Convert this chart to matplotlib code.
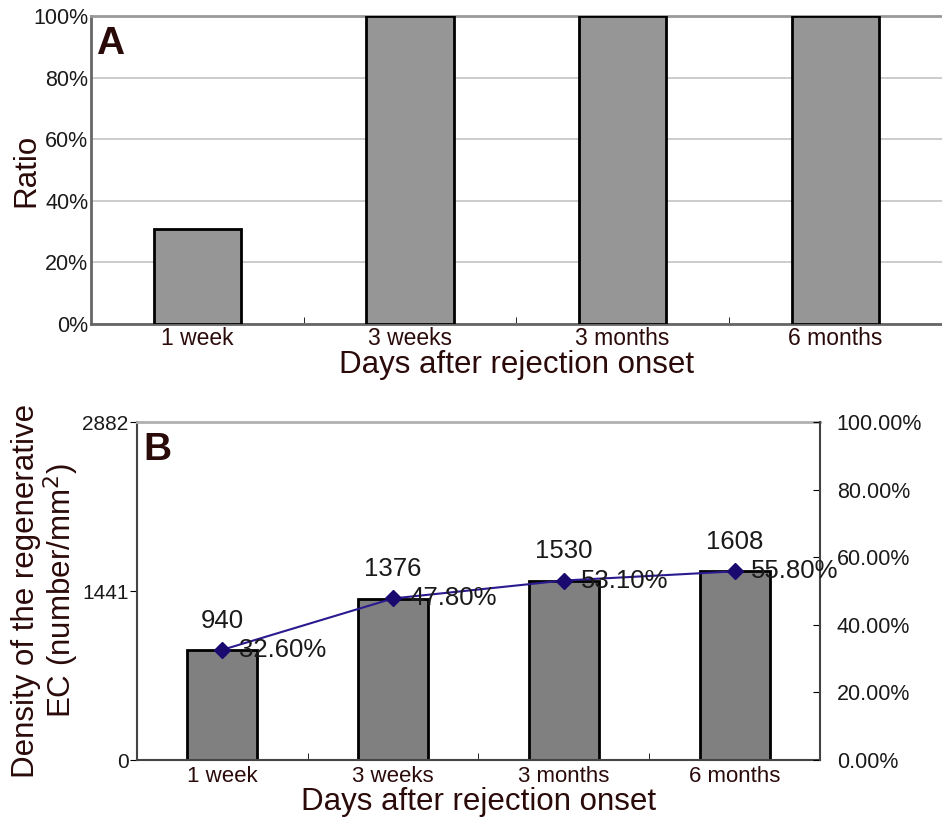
import numpy as np
import matplotlib.pyplot as plt
from matplotlib.ticker import FuncFormatter

plt.rcParams['font.family'] = ['Liberation Sans', 'DejaVu Sans']

# data
periods = ['1 week', '3 weeks', '3 months', '6 months']
ratio_a = [31, 100, 100, 100]
density_b = [940, 1376, 1530, 1608]
percent_b = [32.6, 47.8, 53.1, 55.8]

brown = '#2b0a0a'
x = np.arange(len(periods))

fig = plt.figure(figsize=(9.42, 8.18), dpi=100)

# ---- panel A
ax1 = fig.add_axes([0.0966, 0.604, 0.903, 0.376])
ax1.bar(x, ratio_a, width=0.41, color='#969696', edgecolor='black', linewidth=2, zorder=3)
ax1.set_xlim(-0.5, 3.5)
ax1.set_ylim(0, 100)
ax1.set_yticks(range(0, 101, 20))
ax1.yaxis.set_major_formatter(FuncFormatter(lambda v, p: '%d%%' % v))
ax1.yaxis.grid(True, color='#c4c4c4', linewidth=1.2, zorder=0)
ax1.set_xticks(x)
ax1.set_xticklabels(periods, color=brown)
ax1.set_xticks([0.5, 1.5, 2.5], minor=True)
ax1.tick_params(axis='x', which='major', length=0, labelsize=16.5, pad=2)
ax1.tick_params(axis='x', which='minor', direction='in', length=5)
ax1.tick_params(axis='y', length=0, labelsize=15.5, pad=2, labelcolor='#1a1a1a')
for s in ['left', 'bottom']:
    ax1.spines[s].set_color('#666666')
    ax1.spines[s].set_linewidth(2)
ax1.spines['top'].set_color('#999999')
ax1.spines['top'].set_linewidth(2)
ax1.spines['right'].set_visible(False)
ax1.set_ylabel('Ratio', fontsize=22.5, color=brown)
ax1.yaxis.set_label_coords(-0.058, 0.5)
ax1.set_xlabel('Days after rejection onset', fontsize=22.5, color=brown, labelpad=0)
ax1.text(0.006, 0.97, 'A', transform=ax1.transAxes, fontsize=28, fontweight='bold',
         color=brown, va='top', ha='left')

# ---- panel B
ax2 = fig.add_axes([0.1454, 0.0709, 0.7251, 0.4132])
ax2.bar(x, density_b, width=0.41, color='#808080', edgecolor='black', linewidth=2, zorder=2)
ax2.set_xlim(-0.5, 3.5)
ax2.set_ylim(0, 2882)
ax2.set_yticks([0, 1441, 2882])
ax2.set_xticks(x)
ax2.set_xticklabels(periods, color=brown)
ax2.set_xticks([0.5, 1.5, 2.5], minor=True)
ax2.tick_params(axis='x', which='major', length=0, labelsize=16, pad=4)
ax2.tick_params(axis='x', which='minor', direction='in', length=5)
ax2.tick_params(axis='y', length=5, labelsize=15, pad=1, labelcolor='#1a1a1a')
ax2.spines['top'].set_color('#b0b0b0')
ax2.spines['top'].set_linewidth(2)
for s in ['left', 'bottom']:
    ax2.spines[s].set_color('#444444')
    ax2.spines[s].set_linewidth(1.5)
ax2.spines['right'].set_visible(False)
ax2.set_ylabel('Density of the regenerative\nEC (number/mm$^2$)', fontsize=22.5,
               color=brown, linespacing=1.0)
ax2.yaxis.set_label_coords(-0.082, 0.5)
ax2.set_xlabel('Days after rejection onset', fontsize=22.5, color=brown, labelpad=0)
ax2.text(0.01, 0.97, 'B', transform=ax2.transAxes, fontsize=28, fontweight='bold',
         color=brown, va='top', ha='left')
for xi, d in zip(x, density_b):
    ax2.annotate(str(d), (xi, d), xytext=(0, 21), textcoords='offset points',
                 ha='center', va='center', fontsize=18.5, color='#1a1a1a', zorder=5)

ax3 = ax2.twinx()
ax3.set_ylim(0, 100)
ax3.set_yticks(range(0, 101, 20))
ax3.yaxis.set_major_formatter(FuncFormatter(lambda v, p: '%.2f%%' % v))
ax3.tick_params(axis='y', direction='in', length=5, labelsize=15.5, pad=12,
                labelcolor='#1a1a1a')
for s in ['left', 'top', 'bottom']:
    ax3.spines[s].set_visible(False)
ax3.spines['right'].set_color('#444444')
ax3.spines['right'].set_linewidth(1.5)
ax3.plot(x, percent_b, color='#2a1a90', linewidth=1.5, marker='D', markersize=8,
         markerfacecolor='#1a0a70', markeredgecolor='#1a0a70', zorder=4)
for xi, p in zip(x, percent_b):
    ax3.annotate('%.2f%%' % p, (xi, p), xytext=(12, 0), textcoords='offset points',
                 ha='left', va='center', fontsize=18.5, color='#1a1a1a', zorder=5)

fig.savefig('out.png', dpi=100)
